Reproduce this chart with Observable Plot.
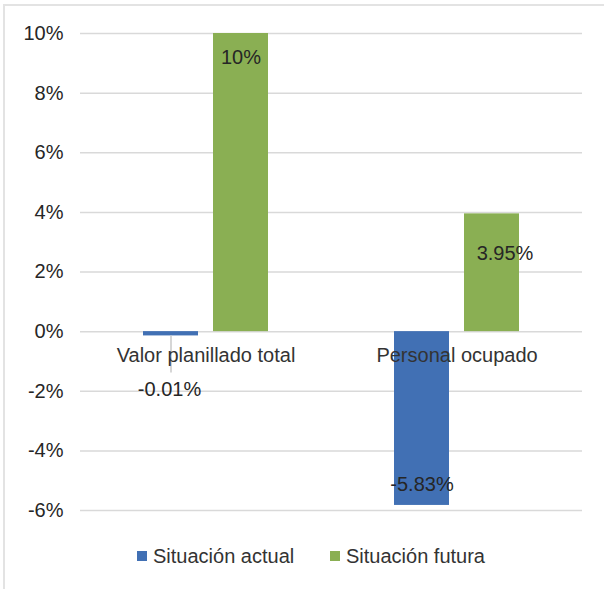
<!DOCTYPE html>
<html>
<head>
<meta charset="utf-8">
<script src="https://cdn.jsdelivr.net/npm/d3@7"></script>
<script src="https://cdn.jsdelivr.net/npm/@observablehq/plot@0.6"></script>
<style>
  html, body { margin: 0; padding: 0; background: #fff; }
  #wrap { position: relative; width: 604px; height: 589px; overflow: hidden; font-family: "Liberation Sans", Arial, sans-serif; }
  #frame { position: absolute; left: 3px; top: 4px; right: -10px; bottom: -10px; border-left: 2px solid #e3e3e3; border-top: 2px solid #e3e3e3; pointer-events: none; }
  #chart { position: absolute; left: 0; top: 0; }
  #legend { position: absolute; left: 0; top: 544px; width: 604px; height: 24px; }
  .item { position: absolute; top: 0; display: flex; align-items: center; font-size: 20px; color: #333; height: 24px; }
  .sw { width: 10px; height: 10px; margin-right: 6px; }
</style>
</head>
<body>
<div id="wrap">
  <div id="frame"></div>
  <div id="chart"></div>
  <div id="legend"></div>
</div>
<script>
const categories = ["Valor planillado total", "Personal ocupado"];
const seriesNames = ["Situación actual", "Situación futura"];
const actualValues = [-0.01, -5.83];
const futureValues = [10, 3.95];
const yTicks = [-6, -4, -2, 0, 2, 4, 6, 8, 10];
const colors = ["#4170b4", "#8aaf53"];

const data = [];
categories.forEach((c, i) => {
  data.push({cat: c, series: seriesNames[0], value: actualValues[i], idx: 0});
  data.push({cat: c, series: seriesNames[1], value: futureValues[i], idx: 1});
});
const lbl = d => `${d.value}%`;
const pick = (ci, si) => data.filter(d => d.cat === categories[ci] && d.series === seriesNames[si]);
const labelStyle = {x: "series", y: "value", fx: "cat", text: lbl, fontSize: 20, fill: "#262626", textAnchor: "middle", lineAnchor: "middle"};

const chart = Plot.plot({
  width: 604,
  height: 530,
  marginLeft: 79,
  marginRight: 22,
  marginTop: 33,
  marginBottom: 20,
  style: {fontFamily: "'Liberation Sans', Arial, sans-serif", fontSize: "20px", color: "#262626", background: "transparent"},
  fx: {domain: categories, padding: 0, axis: null},
  x: {domain: seriesNames, paddingInner: 0.211, paddingOuter: 0.877, axis: null},
  y: {domain: [-6, 10], ticks: yTicks, tickFormat: d => `${d}%`, tickSize: 0, tickPadding: 17, label: null},
  color: {domain: seriesNames, range: colors},
  marks: [
    Plot.ruleY(yTicks, {stroke: "#d9d9d9", strokeWidth: 1.5}),
    Plot.barY(data.filter(d => Math.abs(d.value) >= 0.5), {x: "series", y: "value", fx: "cat", fill: "series"}),
    Plot.barY(data.filter(d => Math.abs(d.value) < 0.5), {x: "series", y: "value", fx: "cat", fill: "series", insetBottom: -4}),
    Plot.ruleX(data.filter(d => Math.abs(d.value) < 0.5), {x: "series", y1: "value", y2: "value", fx: "cat", stroke: "#c8c8c8", strokeWidth: 1.5, insetTop: 4, insetBottom: -41}),
    Plot.text(categories, {fx: d => d, y: () => 0, text: d => d, dy: 24, fontSize: 20, fill: "#333", textAnchor: "middle", lineAnchor: "middle"}),
    Plot.text(pick(0, 1), {...labelStyle, dy: 24}),
    Plot.text(pick(0, 0), {...labelStyle, dx: -1.5, dy: 58}),
    Plot.text(pick(1, 1), {...labelStyle, dx: 13, dy: 40}),
    Plot.text(pick(1, 0), {...labelStyle, dy: -21})
  ]
});
document.getElementById("chart").appendChild(chart);

const legend = document.getElementById("legend");
const lefts = [137, 330];
seriesNames.forEach((s, i) => {
  const it = document.createElement("div");
  it.className = "item";
  it.style.left = lefts[i] + "px";
  const sw = document.createElement("span");
  sw.className = "sw";
  sw.style.background = colors[i];
  const tx = document.createElement("span");
  tx.textContent = s;
  it.appendChild(sw);
  it.appendChild(tx);
  legend.appendChild(it);
});
</script>
</body>
</html>
